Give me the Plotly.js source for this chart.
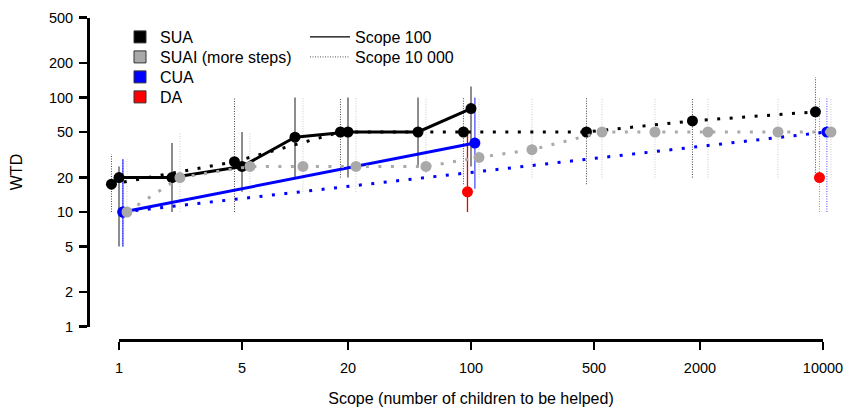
<!DOCTYPE html>
<html>
<head>
<meta charset="utf-8">
<script src="https://cdn.plot.ly/plotly-3.0.1.min.js"></script>
<style>html,body{margin:0;padding:0;background:#fff}#chart{width:859px;height:411px}</style>
</head>
<body>
<div id="chart"></div>
<script>
// ---- data ----
const xTicks = [1, 5, 20, 100, 500, 2000, 10000];
const xTickText = ['1', '5', '20', '100', '500', '2000', '10000'];
const yTicks = [1, 2, 5, 10, 20, 50, 100, 200, 500];

// SUA, scope 100 condition
const suaScope100 = [1, 2, 5, 10, 20, 50, 100];
const suaWtd100 = [20, 20, 25, 45, 50, 50, 80];
const suaLo100 = [5, 10, 15, 20, 20, 25, 25];
const suaHi100 = [25, 40, 50, 100, 100, 100, 125];

// SUA, scope 10 000 condition
const suaScope10000 = [1, 5, 20, 100, 500, 2000, 10000];
const suaWtd10000 = [17.5, 27.5, 50, 50, 50, 62.5, 75];
const suaLo10000 = [10, 10, 20, 17.5, 17.5, 20, 22];
const suaHi10000 = [32, 100, 100, 100, 100, 100, 150];

// SUAI (more steps), scope 10 000 condition
const suaiScope = [1, 2, 5, 10, 20, 50, 100, 200, 500, 1000, 2000, 5000, 10000];
const suaiWtd = [10, 20, 25, 25, 25, 25, 30, 35, 50, 50, 50, 50, 50];
const suaiLo = [10, 10, 15, 15, 15, 22, 20, 20, 20, 20, 20, 20, 20];
const suaiHi = [30, 50, 50, 100, 100, 100, 100, 100, 100, 100, 100, 100, 100];

// CUA
const cuaScope100 = [1, 100];
const cuaWtd100 = [10, 40];
const cuaLo100 = [5, 16];
const cuaHi100 = [29, 100];
const cuaScope10000 = [1, 10000];
const cuaWtd10000 = [10, 50];
const cuaLo10000 = [5, 10];
const cuaHi10000 = [29, 100];

// DA
const daScope100 = [100];
const daWtd100 = [15];
const daLo100 = [10];
const daHi100 = [50];
const daScope10000 = [10000];
const daWtd10000 = [20];
const daLo10000 = [10];
const daHi10000 = [100];

// ---- styling / layout helpers ----
const W = 859, H = 411;
const DOT = '3px,9.5px';
const BARDOT = '1px,1.5px';
const shift = (xs, f) => xs.map(v => v * f);
const F_SUA10000 = 0.906, F_SUAI = 1.11, F_CUA = 1.052, F_DA = 0.955;

function bars(xs, lo, hi, color, dash, width) {
  const x = [], y = [];
  xs.forEach((v, i) => { x.push(v, v, null); y.push(lo[i], hi[i], null); });
  return {x, y, type: 'scatter', mode: 'lines', showlegend: false, hoverinfo: 'skip',
          line: {color, dash, width}};
}
function series(xs, ys, color, dash, mode) {
  return {x: xs, y: ys, type: 'scatter', mode: mode || 'lines+markers', showlegend: false,
          line: {color, width: 3, dash}, marker: {color, size: 11}, cliponaxis: false};
}
function legendMarker(name, color, legend) {
  return {x: [null], y: [null], type: 'scatter', mode: 'markers', name, legend,
          marker: {symbol: 'square', size: 12, color, line: {color: '#333', width: 1}}};
}
function legendLine(name, color, dash, legend) {
  return {x: [null], y: [null], type: 'scatter', mode: 'lines', name, legend,
          line: {color, dash, width: 1.3}};
}

const xs10000 = shift(suaScope10000, F_SUA10000);
const xsSuai = shift(suaiScope, F_SUAI);
const xsCua100 = shift(cuaScope100, F_CUA);
const xsCua10000 = shift(cuaScope10000, F_CUA);
const xsDa100 = shift(daScope100, F_DA);
const xsDa10000 = shift(daScope10000, F_DA);

const traces = [
  bars(suaScope100, suaLo100, suaHi100, 'rgba(0,0,0,0.6)', 'solid', 1.5),
  bars(xs10000, suaLo10000, suaHi10000, 'rgba(0,0,0,0.75)', BARDOT, 1),
  bars(xsSuai, suaiLo, suaiHi, 'rgba(169,169,169,0.6)', BARDOT, 1),
  bars(xsCua100, cuaLo100, cuaHi100, 'rgba(0,0,255,0.6)', 'solid', 1.5),
  bars(xsCua10000, cuaLo10000, cuaHi10000, 'rgba(0,0,255,0.7)', BARDOT, 1),
  bars(xsDa100, daLo100, daHi100, 'rgb(230,0,0)', 'solid', 1.3),
  bars(xsDa10000, daLo10000, daHi10000, 'rgba(255,0,0,0.6)', BARDOT, 1),
  series(xs10000, suaWtd10000, '#000000', DOT),
  series(suaScope100, suaWtd100, '#000000', 'solid'),
  series(xsCua10000, cuaWtd10000, '#0000ff', DOT),
  series(xsCua100, cuaWtd100, '#0000ff', 'solid'),
  series(xsDa100, daWtd100, '#ff0000', 'solid', 'markers'),
  series(xsDa10000, daWtd10000, '#ff0000', 'solid', 'markers'),
  series(xsSuai, suaiWtd, '#a9a9a9', DOT),
  // carrier for the display x axis
  {x: [1], y: [1], xaxis: 'x2', yaxis: 'y', type: 'scatter', mode: 'markers',
   marker: {opacity: 0}, showlegend: false, hoverinfo: 'skip'},
  legendMarker('SUA', '#000000', 'legend'),
  legendMarker('SUAI (more steps)', '#a9a9a9', 'legend2'),
  legendMarker('CUA', '#0000ff', 'legend3'),
  legendMarker('DA', '#ff0000', 'legend4'),
  legendLine('Scope 100', '#000000', 'solid', 'legend5'),
  legendLine('Scope 10 000', '#777777', BARDOT, 'legend6')
];

const FONT = 'Liberation Sans, Arial, Helvetica, sans-serif';
const px2x = p => p / W;
const py2y = p => 1 - p / H;
const K = 176; // px per decade on x
const dataL = 95, dataR = 850, x1px = 119, x10kpx = 823;

function leg(xp, yp, iw) {
  return {x: px2x(xp), y: py2y(yp), xanchor: 'left', yanchor: 'middle', bgcolor: 'rgba(0,0,0,0)',
          borderwidth: 0, font: {family: FONT, size: 16, color: '#000'}, itemwidth: iw || 30};
}

const layout = {
  width: W, height: H,
  margin: {l: 0, r: 0, t: 0, b: 0},
  paper_bgcolor: '#fff', plot_bgcolor: 'rgba(0,0,0,0)',
  font: {family: FONT, color: '#000'},
  xaxis: {type: 'log', domain: [px2x(dataL), px2x(dataR)],
          range: [(dataL - x1px) / K, (dataR - x1px) / K], visible: false, anchor: 'y'},
  xaxis2: {type: 'log', domain: [px2x(x1px), px2x(x10kpx)], range: [0, 4],
           anchor: 'free', position: py2y(340),
           showline: true, linewidth: 3, linecolor: '#000', showgrid: false, zeroline: false,
           ticks: 'outside', ticklen: 8, tickwidth: 2.5, tickcolor: '#000',
           tickvals: xTicks, ticktext: xTickText, tickfont: {family: FONT, size: 14.5},
           ticklabelstandoff: 6,
           title: {text: 'Scope (number of children to be helped)', font: {family: FONT, size: 16}, standoff: 17}},
  yaxis: {type: 'log', domain: [py2y(326.5), py2y(17.5)], range: [0, Math.log10(500)],
          anchor: 'free', position: px2x(88),
          showline: true, linewidth: 3, linecolor: '#000', showgrid: false, zeroline: false,
          ticks: 'outside', ticklen: 8, tickwidth: 2.5, tickcolor: '#000',
          tickvals: yTicks, ticktext: yTicks.map(String), tickfont: {family: FONT, size: 14.5},
          ticklabelstandoff: 3,
          title: {text: 'WTD', font: {family: FONT, size: 16}, standoff: 21}},
  legend: leg(120, 37),
  legend2: leg(120, 57),
  legend3: leg(120, 77),
  legend4: leg(120, 97),
  legend5: leg(305, 37, 40),
  legend6: leg(305, 57, 40)
};

Plotly.newPlot('chart', traces, layout, {staticPlot: true, displayModeBar: false});
</script>
</body>
</html>
